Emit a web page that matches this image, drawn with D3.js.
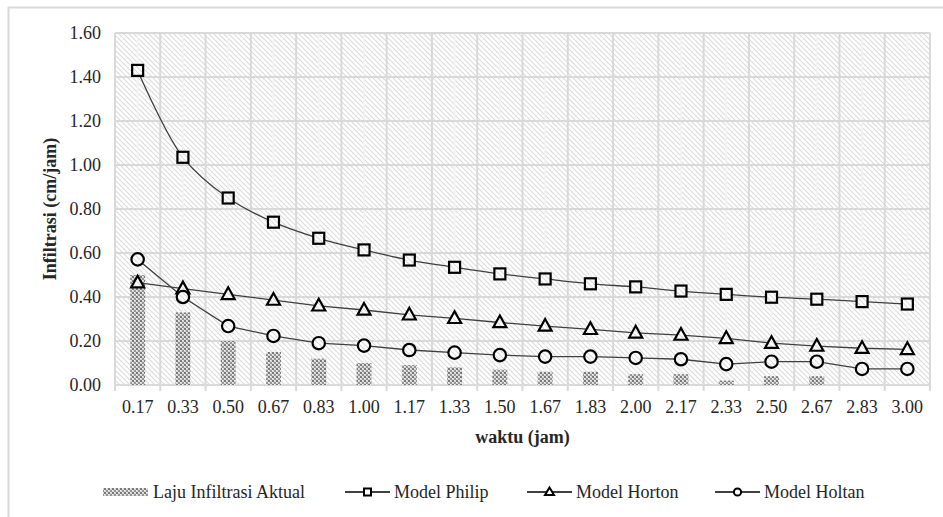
<!DOCTYPE html>
<html><head><meta charset="utf-8">
<script src="https://cdn.jsdelivr.net/npm/d3@7"></script>
<style>
html,body{margin:0;padding:0;background:#fff;}
svg{display:block;}
</style></head>
<body><svg id="c" width="943" height="517"></svg>
<script>
const categories = ["0.17","0.33","0.50","0.67","0.83","1.00","1.17","1.33","1.50","1.67","1.83","2.00","2.17","2.33","2.50","2.67","2.83","3.00"];
const aktual = [0.50,0.33,0.20,0.15,0.12,0.10,0.09,0.08,0.07,0.06,0.06,0.05,0.05,0.02,0.04,0.04,0.00,0.00];
const philip = [1.43,1.035,0.85,0.74,0.667,0.614,0.568,0.535,0.505,0.482,0.46,0.446,0.427,0.412,0.399,0.39,0.379,0.368];
const horton = [0.465,0.438,0.412,0.386,0.36,0.341,0.319,0.303,0.284,0.268,0.253,0.237,0.227,0.212,0.19,0.177,0.167,0.162];
const holtan = [0.571,0.40,0.268,0.223,0.19,0.179,0.159,0.147,0.136,0.129,0.129,0.123,0.117,0.095,0.106,0.106,0.073,0.073];
const yTicks = [0,0.2,0.4,0.6,0.8,1.0,1.2,1.4,1.6];
const legendLabels = ["Laju Infiltrasi Aktual","Model Philip","Model Horton","Model Holtan"];
const yTitle = "Infiltrasi (cm/jam)";
const xTitle = "waktu (jam)";

const FONT = "Liberation Serif";
const svg = d3.select("#c").attr("font-family",FONT);
const defs = svg.append("defs");
// background hatch
const hp = defs.append("pattern").attr("id","hatch").attr("patternUnits","userSpaceOnUse")
  .attr("width",5).attr("height",5);
hp.append("rect").attr("width",5).attr("height",5).attr("fill","#fff");
hp.append("path").attr("d","M-1,-1L6,6M-1,4L1,6M4,-1L6,1").attr("stroke","#dcdcdc").attr("stroke-width",1.1);
// bar pattern
const bp = defs.append("pattern").attr("id","dots").attr("patternUnits","userSpaceOnUse")
  .attr("width",4).attr("height",4);
bp.append("rect").attr("width",4).attr("height",4).attr("fill","#d4d4d4");
bp.append("rect").attr("x",0).attr("y",0).attr("width",2).attr("height",2).attr("fill","#7a7a7a");
bp.append("rect").attr("x",2).attr("y",2).attr("width",2).attr("height",2).attr("fill","#959595");
bp.append("rect").attr("x",2).attr("y",0).attr("width",1).attr("height",1).attr("fill","#f2f2f2");
bp.append("rect").attr("x",0).attr("y",2).attr("width",1).attr("height",1).attr("fill","#f2f2f2");

// outer border
svg.append("rect").attr("x",8.5).attr("y",7.5).attr("width",960).attr("height",540)
  .attr("fill","#fff").attr("stroke","#d9d9d9").attr("stroke-width",2);

const L=115,R=930,T=33,B=385;
const x = d3.scaleBand().domain(categories).range([L,R]).padding(0);
const y = d3.scaleLinear().domain([0,1.6]).range([B,T]);
const bw = x.bandwidth();

svg.append("rect").attr("x",L).attr("y",T).attr("width",R-L).attr("height",B-T).attr("fill","url(#hatch)");

const g = svg.append("g");
g.selectAll(".vmin").data(categories).join("line")
  .attr("x1",d=>x(d)+bw/2).attr("x2",d=>x(d)+bw/2).attr("y1",T).attr("y2",B)
  .attr("stroke","#f3f3f3").attr("stroke-width",2);
const bounds = categories.map(d=>x(d)).concat([R]);
g.selectAll(".vmaj").data(bounds).join("line")
  .attr("x1",d=>d).attr("x2",d=>d).attr("y1",T).attr("y2",B)
  .attr("stroke","#d9d9d9").attr("stroke-width",2);
g.selectAll(".h").data(yTicks).join("line")
  .attr("x1",L).attr("x2",R).attr("y1",d=>y(d)).attr("y2",d=>y(d))
  .attr("stroke","#d9d9d9").attr("stroke-width",2);
g.selectAll(".xt").data(bounds).join("line")
  .attr("x1",d=>d).attr("x2",d=>d).attr("y1",B).attr("y2",B+6)
  .attr("stroke","#d9d9d9").attr("stroke-width",2);

// bars
const barW = bw*0.33;
svg.append("g").selectAll("rect").data(aktual).join("rect")
  .attr("x",(d,i)=>x(categories[i])+bw/2-barW/2).attr("width",barW)
  .attr("y",d=>y(d)).attr("height",d=>B-y(d)).attr("fill","url(#dots)");

// lines
const cx = i=>x(categories[i])+bw/2;
const lineSmooth = d3.line().x((d,i)=>cx(i)).y(d=>y(d)).curve(d3.curveCatmullRom.alpha(0.5));
const lineStraight = d3.line().x((d,i)=>cx(i)).y(d=>y(d));
const lc = "#404040";
svg.append("path").attr("d",lineSmooth(philip)).attr("fill","none").attr("stroke",lc).attr("stroke-width",1.3);
svg.append("path").attr("d",lineStraight(horton)).attr("fill","none").attr("stroke",lc).attr("stroke-width",1.3);
svg.append("path").attr("d",lineStraight(holtan)).attr("fill","none").attr("stroke",lc).attr("stroke-width",1.3);

function sq(sel,px,py,s,sw){sel.append("rect").attr("x",px-s/2).attr("y",py-s/2).attr("width",s).attr("height",s)
  .attr("fill","url(#hatch)").attr("stroke","#000").attr("stroke-width",sw);}
function tri(sel,px,py,s,sw){const h=s*0.9;sel.append("path")
  .attr("d",`M${px},${py-h*0.6}L${px+s/2},${py+h*0.4}L${px-s/2},${py+h*0.4}Z`)
  .attr("fill","url(#hatch)").attr("stroke","#000").attr("stroke-width",sw).attr("stroke-linejoin","miter");}
function circ(sel,px,py,r,sw){sel.append("circle").attr("cx",px).attr("cy",py).attr("r",r)
  .attr("fill","url(#hatch)").attr("stroke","#000").attr("stroke-width",sw);}

const mk = svg.append("g");
philip.forEach((v,i)=>sq(mk,cx(i),y(v),11,2.2));
horton.forEach((v,i)=>tri(mk,cx(i),y(v),13,2.2));
holtan.forEach((v,i)=>circ(mk,cx(i),y(v),6.2,2.2));

// axis labels
const txt = "#262626";
const FS = 18;
svg.append("g").selectAll("text").data(yTicks).join("text")
  .attr("font-family",FONT)
  .attr("x",101).attr("y",d=>y(d)+6).attr("text-anchor","end")
  .attr("font-size",FS).attr("fill",txt).text(d=>d.toFixed(2));
svg.append("g").selectAll("text").data(categories).join("text")
  .attr("font-family",FONT)
  .attr("x",(d)=>x(d)+bw/2).attr("y",413).attr("text-anchor","middle")
  .attr("font-size",FS).attr("fill",txt).text(d=>d);
svg.append("text").attr("font-family",FONT).attr("transform",`translate(56,${(T+B)/2}) rotate(-90)`)
  .attr("text-anchor","middle").attr("font-size",FS).attr("font-weight","bold").attr("fill",txt).text(yTitle);
svg.append("text").attr("font-family",FONT).attr("x",(L+R)/2).attr("y",443).attr("text-anchor","middle")
  .attr("font-size",FS).attr("font-weight","bold").attr("fill",txt).text(xTitle);

// legend
const ly = 492;
const lg = svg.append("g");
lg.append("rect").attr("x",103).attr("y",ly-4).attr("width",45).attr("height",8).attr("fill","url(#dots)");
lg.append("text").attr("font-family",FONT).attr("x",153).attr("y",ly+6).attr("font-size",FS).attr("fill",txt).text(legendLabels[0]);
const items = [[345,legendLabels[1],"sq"],[527,legendLabels[2],"tri"],[715,legendLabels[3],"circ"]];
items.forEach(([x0,lab,m])=>{
  lg.append("line").attr("x1",x0).attr("x2",x0+45).attr("y1",ly).attr("y2",ly).attr("stroke","#000").attr("stroke-width",1.3);
  if(m==="sq") lg.append("rect").attr("x",x0+22.5-3.5).attr("y",ly-3.5).attr("width",7).attr("height",7).attr("fill","#fff").attr("stroke","#000").attr("stroke-width",2);
  if(m==="tri") lg.append("path").attr("d",`M${x0+22.5},${ly-4.5}L${x0+27},${ly+3}L${x0+18},${ly+3}Z`).attr("fill","#fff").attr("stroke","#000").attr("stroke-width",2);
  if(m==="circ") lg.append("circle").attr("cx",x0+22.5).attr("cy",ly).attr("r",3.6).attr("fill","#fff").attr("stroke","#000").attr("stroke-width",2);
  lg.append("text").attr("font-family",FONT).attr("x",x0+49).attr("y",ly+6).attr("font-size",FS).attr("fill",txt).text(lab);
});
</script></body></html>
